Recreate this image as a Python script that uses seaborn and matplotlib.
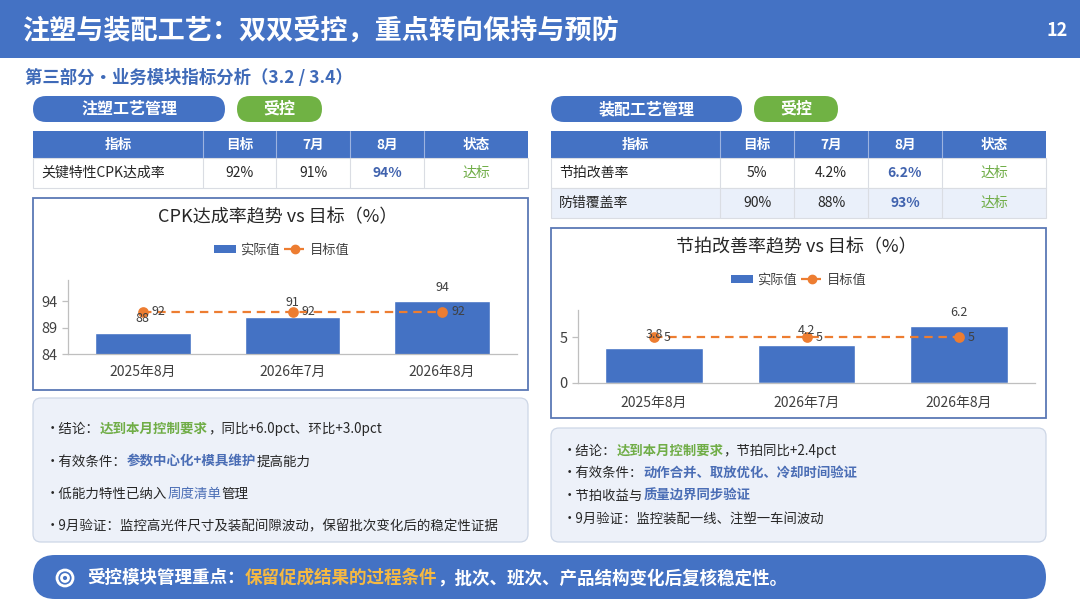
import matplotlib
matplotlib.use('Agg')
import matplotlib.pyplot as plt
import seaborn as sns
from matplotlib.patches import FancyBboxPatch, Rectangle, Circle, Patch
from matplotlib.lines import Line2D

# 数据
months = ['2025年8月', '2026年7月', '2026年8月']
cpk_actual = [88, 91, 94]
cpk_target = [92, 92, 92]
takt_actual = [3.8, 4.2, 6.2]
takt_target = [5, 5, 5]

table_header = ['指标', '目标', '7月', '8月', '状态']
left_rows = [['关键特性CPK达成率', '92%', '91%', '94%', '达标']]
right_rows = [['节拍改善率', '5%', '4.2%', '6.2%', '达标'],
              ['防错覆盖率', '90%', '88%', '93%', '达标']]

left_notes = [
    [('·结论：', 'n'), ('达到本月控制要求', 'g'), ('，同比+6.0pct、环比+3.0pct', 'n')],
    [('·有效条件：', 'n'), ('参数中心化+模具维护', 'b'), ('提高能力', 'n')],
    [('·低能力特性已纳入', 'n'), ('周度清单', 'bl'), ('管理', 'n')],
    [('·9月验证：监控高光件尺寸及装配间隙波动，保留批次变化后的稳定性证据', 'n')],
]
right_notes = [
    [('·结论：', 'n'), ('达到本月控制要求', 'g'), ('，节拍同比+2.4pct', 'n')],
    [('·有效条件：', 'n'), ('动作合并、取放优化、冷却时间验证', 'b')],
    [('·节拍收益与', 'n'), ('质量边界同步验证', 'b')],
    [('·9月验证：监控装配一线、注塑一车间波动', 'n')],
]
banner = [('受控模块管理重点：', 'w'), ('保留促成结果的过程条件', 'y'),
          ('，批次、班次、产品结构变化后复核稳定性。', 'w')]

BLUE = '#4472C4'
ORANGE = '#ED7D31'
GREEN = '#70B244'
DARK = '#262626'
GREY = '#404040'

styles = {
    'n': (DARK, 'normal'),
    'g': ('#70AD47', 'bold'),
    'b': ('#4A6DB5', 'bold'),
    'bl': ('#4A6DB5', 'normal'),
    'w': ('white', 'bold'),
    'y': ('#F5B942', 'bold'),
}

sns.set_theme(style='white')
plt.rcParams['font.family'] = ['Noto Sans CJK SC', 'DejaVu Sans']

W, H = 1080, 608
fig = plt.figure(figsize=(10.8, 6.08), dpi=100)
bg = fig.add_axes([0, 0, 1, 1])
bg.set_xlim(0, W)
bg.set_ylim(H, 0)
bg.axis('off')
renderer = fig.canvas.get_renderer()


def fig_rect(x0, y0, x1, y1):
    return [x0 / W, 1 - y1 / H, (x1 - x0) / W, (y1 - y0) / H]


def rbox(x, y, w, h, r, fc, ec='none', lw=0):
    bg.add_patch(FancyBboxPatch((x, y), w, h, boxstyle=f'round,pad=0,rounding_size={r}',
                                fc=fc, ec=ec, lw=lw))


def rich(x, y, segs, size):
    for txt, key in segs:
        color, weight = styles[key]
        t = bg.text(x, y, txt, fontsize=size, color=color, fontweight=weight,
                    ha='left', va='center')
        x += t.get_window_extent(renderer).width


def draw_table(edges, y_top, rows, head_h=27, row_h=30, alt=None):
    bg.add_patch(Rectangle((edges[0], y_top), edges[-1] - edges[0], head_h, fc=BLUE, ec='none'))
    for i, lab in enumerate(table_header):
        bg.text((edges[i] + edges[i + 1]) / 2, y_top + head_h / 2, lab, color='white',
                fontsize=9.8, fontweight='bold', ha='center', va='center')
        if i > 0:
            bg.plot([edges[i]] * 2, [y_top, y_top + head_h], color='#9DB3E0', lw=0.8)
    y = y_top + head_h
    for r, row in enumerate(rows):
        fc = alt if (alt and r % 2 == 1) else 'white'
        bg.add_patch(Rectangle((edges[0], y), edges[-1] - edges[0], row_h, fc=fc,
                               ec='#DADDE3', lw=0.8))
        for i, val in enumerate(row):
            color, weight = DARK, 'normal'
            if i == 3:
                color, weight = '#4163AE', 'bold'
            if i == 4:
                color = '#70AD47'
            if i == 0:
                bg.text(edges[0] + 8, y + row_h / 2, val, fontsize=10, color=color,
                        ha='left', va='center')
            else:
                bg.text((edges[i] + edges[i + 1]) / 2, y + row_h / 2, val, fontsize=10,
                        color=color, fontweight=weight, ha='center', va='center')
                bg.plot([edges[i]] * 2, [y, y + row_h], color='#DADDE3', lw=0.8)
        y += row_h


def trend_chart(rect, actual, target, ylim, yticks, xpad):
    ax = fig.add_axes(fig_rect(*rect))
    sns.barplot(x=months, y=actual, color=BLUE, saturation=1, width=0.64,
                errorbar=None, ax=ax)
    sns.pointplot(x=months, y=target, color=ORANGE, markers='o', linestyles='--',
                  errorbar=None, ax=ax, markersize=6.5, linewidth=1.6)
    ax.lines[-1].set_dashes([3.8, 2.6])
    ax.set_xlim(-0.5, 2.5)
    ax.set_ylim(*ylim)
    ax.set_yticks(yticks)
    ax.set_xlabel('')
    ax.set_ylabel('')
    ax.patch.set_alpha(0)
    sns.despine(ax=ax)
    for s in ['left', 'bottom']:
        ax.spines[s].set_color('#BFBFBF')
        ax.spines[s].set_linewidth(0.9)
    ax.set_xticks([-0.5, 0.5, 1.5, 2.5], minor=True)
    ax.tick_params(axis='x', which='major', length=0, labelsize=10, labelcolor=GREY, pad=xpad)
    ax.tick_params(axis='x', which='minor', length=4, width=0.9, color='#BFBFBF', direction='out')
    ax.tick_params(axis='y', length=4.5, width=0.9, color='#BFBFBF', direction='out',
                   labelsize=10.5, labelcolor=GREY, pad=3, left=True)
    for i, v in enumerate(actual):
        ax.annotate(f'{v:g}', xy=(i, v), xytext=(0, 14), textcoords='offset pixels',
                    ha='center', va='center', fontsize=9, color=GREY)
    for i, v in enumerate(target):
        ax.annotate(f'{v:g}', xy=(i, v), xytext=(9, 0), textcoords='offset pixels',
                    ha='left', va='center', fontsize=9, color=GREY)
    return ax


def chart_legend(cx, cy):
    handles = [Patch(fc=BLUE, ec='none'),
               Line2D([], [], color=ORANGE, ls='--', lw=1.6, marker='o', markersize=6)]
    fig.legend(handles, ['实际值', '目标值'], loc='center', bbox_to_anchor=(cx / W, 1 - cy / H),
               ncol=2, frameon=False, fontsize=9.5, labelcolor=GREY, handlelength=1.7,
               handletextpad=0.3, columnspacing=0.3, handleheight=0.6)


# 顶部标题栏
bg.add_patch(Rectangle((0, 0), W, 58, fc=BLUE, ec='none'))
bg.text(22, 31, '注塑与装配工艺：双双受控，重点转向保持与预防', color='white',
        fontsize=19.5, fontweight='bold', ha='left', va='center')
bg.text(1068, 31, '12', color='white', fontsize=13, fontweight='bold', ha='right', va='center')
bg.text(25, 78, '第三部分・业务模块指标分析（3.2 / 3.4）', color='#3F6AB8',
        fontsize=12.5, fontweight='bold', ha='left', va='center')

# 标签胶囊
for x0, x1, lab in [(33, 225, '注塑工艺管理'), (551, 742, '装配工艺管理')]:
    rbox(x0, 96, x1 - x0, 26, 13, BLUE)
    bg.text((x0 + x1) / 2, 109, lab, color='white', fontsize=11.5, fontweight='bold',
            ha='center', va='center')
for x0, x1 in [(237, 322), (754, 838)]:
    rbox(x0, 96, x1 - x0, 26, 13, GREEN)
    bg.text((x0 + x1) / 2, 109, '受控', color='white', fontsize=11.5, fontweight='bold',
            ha='center', va='center')

# 表格
draw_table([33, 203, 276, 350, 424, 528], 131, left_rows)
draw_table([551, 720, 794, 868, 942, 1046], 131, right_rows, alt='#EAF0FA')

# 图表外框
bg.add_patch(Rectangle((33, 198), 495, 192, fc='white', ec='#5A78B5', lw=1.3))
bg.add_patch(Rectangle((551, 228), 495, 190, fc='white', ec='#5A78B5', lw=1.3))
bg.text(278, 217, 'CPK达成率趋势 vs 目标（%）', fontsize=13, color=DARK, ha='center', va='center')
bg.text(796, 247, '节拍改善率趋势 vs 目标（%）', fontsize=13, color=DARK, ha='center', va='center')

trend_chart((68, 280, 517, 354), cpk_actual, cpk_target, (84, 98), [84, 89, 94], 8)
trend_chart((578, 310, 1035, 383), takt_actual, takt_target, (0, 8), [0, 5], 9)
chart_legend(282, 250)
chart_legend(799, 280)

# 结论框
rbox(33, 398, 495, 144, 8, '#EDF1F9', '#CDD6E6', 0.9)
for y, segs in zip([429, 462, 494, 526], left_notes):
    rich(46, y, segs, 9.7)
rbox(551, 428, 495, 114, 8, '#EDF1F9', '#CDD6E6', 0.9)
for y, segs in zip([451, 473, 496, 519], right_notes):
    rich(563, y, segs, 9.6)

# 底部横幅
rbox(33, 555, 1013, 44, 22, BLUE)
bg.add_patch(Circle((65, 578), 8, fill=False, ec='white', lw=2))
bg.add_patch(Circle((65, 578), 3.5, fill=False, ec='white', lw=2))
rich(87, 578, banner, 12.65)

fig.savefig('out.png', dpi=100)
